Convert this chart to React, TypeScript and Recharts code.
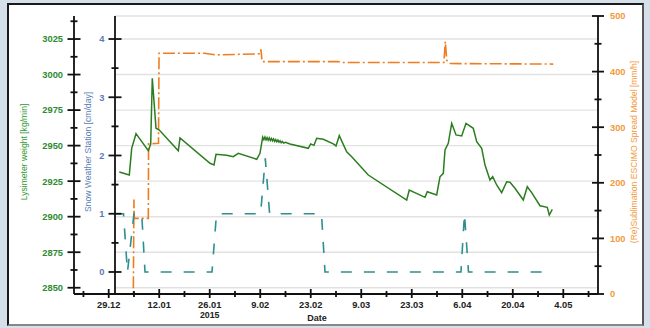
import React from "react";
import { CartesianGrid, ComposedChart, Line, XAxis, YAxis } from "recharts";

const font = '"Liberation Sans", Arial, Helvetica, sans-serif';
const ink = "#111";
const green = "#2b7d1f";
const greenText = "#2f8a2f";
const blueText = "#5a7db5";
const orange = "#ef7d1f";
const orangeText = "#f29a3c";
const teal = "#2f8f8f";

// day 0 = 29.12.2014
const dateTicks = [0, 14, 28, 42, 56, 70, 84, 98, 112, 126];
const dateLabels = ["29.12", "12.01", "26.01", "9.02", "23.02", "9.03", "23.03", "6.04", "20.04", "4.05"];
const dateMinor = [-7, 7, 21, 35, 49, 63, 77, 91, 105, 119, 133];
const yearDay = 28;
const yearLabel = "2015";

const weightTicks = [2850, 2875, 2900, 2925, 2950, 2975, 3000, 3025];
const weightMinor = [2862.5, 2887.5, 2912.5, 2937.5, 2962.5, 2987.5, 3012.5, 3037.5];
const snowTicks = [0, 1, 2, 3, 4];
const snowMinor = [0.5, 1.5, 2.5, 3.5];
const sublTicks = [0, 100, 200, 300, 400, 500];
const sublMinor = [50, 150, 250, 350, 450];

const dayDomain: [number, number] = [-9.62, 135.62];
const weightDomain: [number, number] = [2845.6, 3041.2];
const snowDomain: [number, number] = [-0.378, 4.395];
const sublDomain: [number, number] = [0, 500];

// lysimeter weight [kg/min]
const lysimeter: [number, number][] = [
  [2.94, 2931.5], [5.71, 2929.3], [6.37, 2948.1], [7.57, 2958.4], [10.98, 2946.4],
  [11.64, 2951.1], [12.08, 2997.4], [13.11, 2962.2], [14.02, 2961], [19.29, 2946.4],
  [19.76, 2955.4], [28.08, 2937.6], [29.19, 2936.4], [29.74, 2943.9], [32.71, 2943.2],
  [34.53, 2942.2], [35.92, 2944.6], [41.02, 2940.4], [41.93, 2944.6], [42.68, 2955.9],
  [43.0, 2954.2], [43.3, 2956.0], [43.6, 2954.0], [43.9, 2955.6], [44.2, 2953.8],
  [44.5, 2955.4], [44.8, 2953.6], [45.1, 2955.0], [45.4, 2953.3], [45.7, 2954.7],
  [46.0, 2953.0], [46.3, 2954.3], [46.6, 2952.7], [46.9, 2953.9], [47.2, 2952.4],
  [47.5, 2953.4], [47.8, 2952.0], [48.1, 2952.9], [48.5, 2951.8], [49.0, 2952.3],
  [50.24, 2951.2], [55.32, 2948.1], [55.99, 2951.2], [56.9, 2950.2], [57.65, 2955.2],
  [59.48, 2954.5], [62.25, 2951.2], [63.0, 2949.8], [63.91, 2957], [65.96, 2945.7],
  [67.35, 2942.2], [71.95, 2929.3], [82.6, 2911.7], [83.31, 2918.7], [87.67, 2913.6],
  [88.3, 2917.6], [90.91, 2915.3], [91.82, 2928.1], [92.74, 2930.5], [93.21, 2946.9],
  [94.12, 2951.6], [95.07, 2965.7], [96.26, 2957.5], [97.84, 2956.8], [99.03, 2965.7],
  [101.05, 2962.2], [102.0, 2952.8], [103.38, 2948.1], [104.3, 2936.4], [105.68, 2925.8],
  [106.43, 2928.1], [107.54, 2922.3], [108.92, 2916.9], [110.31, 2924.6], [111.22, 2924.2],
  [112.61, 2920], [114.91, 2911.7], [116.02, 2921.1], [117.24, 2916.9], [119.54, 2907.7],
  [121.56, 2906.6], [122.12, 2901.2], [122.95, 2905.2]
];

// snow weather station [cm/day]
const snow: [number, number][] = [
  [1.8, 1], [4.1, 1], [5.2, 0], [7.0, 1], [9.15, 1], [10.06, 0], [28.63, 0], [29.88, 1],
  [42.1, 1], [43.4, 1.95], [44.6, 1], [58.98, 1], [59.95, 0], [97.64, 0], [98.61, 1],
  [99.72, 0], [121.8, 0]
];

// (re)sublimation ESCIMO spread model [mm/h]
const sublimation: [number, number][] = [
  [2.9, 0], [6.82, 0], [7.0, 170], [7.1, 136], [10.98, 136], [11.05, 270], [13.8, 271],
  [13.95, 433], [26.5, 433], [29.7, 430], [42.0, 432], [42.2, 440], [42.5, 418], [63.5, 418],
  [64.5, 416.5], [92.9, 416.5], [93.3, 454], [93.7, 420], [94.7, 414.5], [123.2, 413.5]
];

const lysimeterData = lysimeter.map(([day, v]) => ({ day, weight: v }));
const snowData = snow.map(([day, v]) => ({ day, snow: v }));
const sublData = sublimation.map(([day, v]) => ({ day, subl: v }));

const W = 650;
const H = 328;
const plotLeft = 74;
const plotRight = 598;
const snowAxisLeft = 115;
const snowDayMin =
  dayDomain[0] + ((snowAxisLeft - plotLeft) / (plotRight - plotLeft)) * (dayDomain[1] - dayDomain[0]);

const tickFont = { fontFamily: font, fontSize: 9.3, fontWeight: 700 };

const leftTick = (majors: number[], color: string, gap: number) => (p: any) => {
  const major = majors.includes(p.payload.value);
  const h = major ? 6.5 : 3.5;
  return (
    <g>
      <line x1={p.x - h} x2={p.x + h} y1={p.y} y2={p.y} stroke={ink} strokeWidth={1.8} />
      {major && (
        <text x={p.x - gap} y={p.y} dy={3.4} textAnchor="end" fill={color} style={tickFont}>
          {p.payload.value}
        </text>
      )}
    </g>
  );
};

const rightTick = (p: any) => {
  const major = sublTicks.includes(p.payload.value);
  const h = major ? 6 : 3.5;
  return (
    <g>
      <line x1={p.x - h} x2={p.x + h} y1={p.y} y2={p.y} stroke={ink} strokeWidth={1.8} />
      {major && (
        <text x={p.x + 12} y={p.y} dy={3.4} textAnchor="start" fill={orangeText} style={tickFont}>
          {p.payload.value}
        </text>
      )}
    </g>
  );
};

const dateTick = (p: any) => {
  const i = dateTicks.indexOf(p.payload.value);
  const major = i >= 0;
  return (
    <g>
      <line x1={p.x} x2={p.x} y1={p.y - (major ? 5 : 3)} y2={p.y + (major ? 4 : 3)} stroke={ink} strokeWidth={1.8} />
      {major && (
        <text x={p.x} y={p.y + 14.2} textAnchor="middle" fill="#222" style={tickFont}>
          {dateLabels[i]}
        </text>
      )}
      {p.payload.value === yearDay && (
        <text x={p.x} y={p.y + 23.8} textAnchor="middle" fill="#222" style={{ ...tickFont, fontSize: 8.8 }}>
          {yearLabel}
        </text>
      )}
    </g>
  );
};

const axisLine = { stroke: ink, strokeWidth: 1.8 };

export default function App() {
  const layer: React.CSSProperties = { position: "absolute", left: 0, top: 0 };
  return (
    <div style={{ position: "absolute", left: 0, top: 0, width: W, height: H, background: "#d6e0ea", overflow: "hidden" }}>
      <div
        style={{
          position: "absolute",
          left: 7,
          top: 3,
          width: 637,
          height: 323,
          boxSizing: "border-box",
          background: "#fff",
          borderLeft: "2px solid #1a1a1a",
          borderTop: "2px solid #1a1a1a",
          borderRight: "2px solid #555",
          borderBottom: "2px solid #888"
        }}
      />
      <div style={layer}>
        <ComposedChart width={W} height={H} margin={{ top: 16, right: 12, bottom: 4, left: 14 }}>
          <XAxis
            dataKey="day"
            type="number"
            domain={dayDomain}
            ticks={[...dateTicks, ...dateMinor]}
            interval={0}
            allowDataOverflow
            height={30}
            tickSize={0}
            tickMargin={0}
            tickLine={false}
            axisLine={axisLine}
            tick={dateTick}
          />
          <XAxis xAxisId="top" orientation="top" type="number" domain={dayDomain} height={0} tick={false} tickLine={false} axisLine={axisLine} />
          <YAxis
            yAxisId="weight"
            type="number"
            domain={weightDomain}
            ticks={[...weightTicks, ...weightMinor]}
            interval={0}
            allowDataOverflow
            width={60}
            tickSize={0}
            tickMargin={0}
            tickLine={false}
            axisLine={axisLine}
            tick={leftTick(weightTicks, greenText, 11)}
          />
          <YAxis
            yAxisId="subl"
            orientation="right"
            type="number"
            domain={sublDomain}
            ticks={[...sublTicks, ...sublMinor]}
            interval={0}
            allowDataOverflow
            width={40}
            tickSize={0}
            tickMargin={0}
            tickLine={false}
            axisLine={axisLine}
            tick={rightTick}
          />
          <XAxis xAxisId="grid" type="number" domain={dayDomain} ticks={dateTicks.slice(1)} hide height={0} allowDataOverflow />
          <YAxis yAxisId="grid" type="number" domain={weightDomain} ticks={weightTicks} hide width={0} allowDataOverflow />
          <CartesianGrid
            xAxisId="grid"
            yAxisId="grid"
            x={snowAxisLeft}
            width={plotRight - snowAxisLeft}
            stroke="#e2e2e2"
            strokeWidth={1.4}
          />
          <Line
            yAxisId="subl"
            data={sublData}
            dataKey="subl"
            type="linear"
            stroke={orange}
            strokeWidth={1.6}
            strokeDasharray="12 3 2 3"
            dot={false}
            activeDot={false}
            isAnimationActive={false}
          />
          <Line
            yAxisId="weight"
            data={lysimeterData}
            dataKey="weight"
            type="linear"
            stroke={green}
            strokeWidth={1.5}
            dot={false}
            activeDot={false}
            isAnimationActive={false}
          />
        </ComposedChart>
      </div>
      <div style={layer}>
        <ComposedChart width={W} height={H} margin={{ top: 16, right: W - plotRight, bottom: 34, left: snowAxisLeft - 40 }}>
          <XAxis dataKey="day" type="number" domain={[snowDayMin, dayDomain[1]]} hide height={0} allowDataOverflow />
          <YAxis
            yAxisId="snow"
            type="number"
            domain={snowDomain}
            ticks={[...snowTicks, ...snowMinor]}
            interval={0}
            allowDataOverflow
            width={40}
            tickSize={0}
            tickMargin={0}
            tickLine={false}
            axisLine={axisLine}
            tick={leftTick(snowTicks, blueText, 10.5)}
          />
          <Line
            yAxisId="snow"
            data={snowData}
            dataKey="snow"
            type="linear"
            stroke={teal}
            strokeWidth={1.6}
            strokeDasharray="11 12"
            dot={false}
            activeDot={false}
            isAnimationActive={false}
          />
        </ComposedChart>
      </div>
      <svg width={W} height={H} style={{ ...layer, pointerEvents: "none" }}>
        <g style={{ fontFamily: font, fontSize: 8.6 }}>
          <text x={24} y={152} transform="rotate(-90 24 152)" textAnchor="middle" dy={3} fill="#339933">
            Lysimeter weight [kg/min]
          </text>
          <text x={88} y={152} transform="rotate(-90 88 152)" textAnchor="middle" dy={3} fill={blueText}>
            Snow Weather Station [cm/day]
          </text>
          <text x={634} y={152} transform="rotate(-90 634 152)" textAnchor="middle" dy={3} fill={orangeText}>
            (Re)Sublimation ESCIMO Spread Model [mm/h]
          </text>
          <text x={317} y={321} textAnchor="middle" fill="#222" style={{ fontSize: 9, fontWeight: 700 }}>
            Date
          </text>
        </g>
      </svg>
    </div>
  );
}
